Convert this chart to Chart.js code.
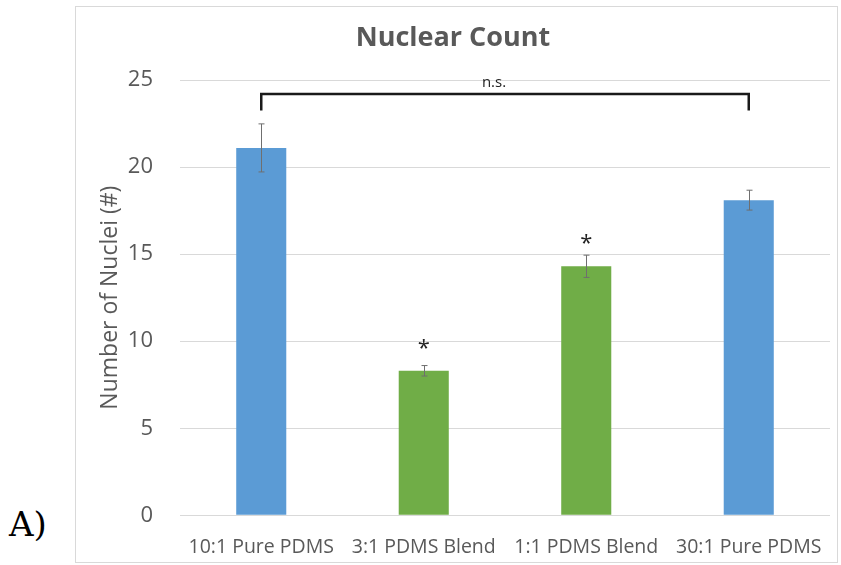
<!DOCTYPE html>
<html>
<head>
<meta charset="utf-8">
<script src="https://cdn.jsdelivr.net/npm/chart.js@4"></script>
<style>
  body { margin: 0; width: 841px; height: 565px; position: relative; background: #fff; overflow: hidden; }
  #frame { position: absolute; left: 75px; top: 6px; width: 763px; height: 557px; box-sizing: border-box; border: 1px solid #d9d9d9; }
  #panel { position: absolute; left: 9px; top: 507px; font: 34px "DejaVu Serif"; line-height: 34px; color: #000; }
</style>
</head>
<body>
<div id="panel">A)</div>
<div id="frame"><canvas id="chart" width="761" height="555"></canvas></div>
<script>
// данные
const categories = ["10:1 Pure PDMS", "3:1 PDMS Blend", "1:1 PDMS Blend", "30:1 Pure PDMS"];
const nucleiMean = [21.1, 8.3, 14.3, 18.1];
const nucleiErr = [1.38, 0.3, 0.64, 0.57];
const barColors = ["#5B9BD5", "#70AD47", "#70AD47", "#5B9BD5"];
const starLevels = [null, 9.8, 15.8, null]; // уровень звёздочек
const bracketLevel = 24.2;
const bracketLegEnd = 23.25;
const yTicks = [0, 5, 10, 15, 20, 25];

const fontFamily = "'Open Sans', sans-serif";

// планки погрешностей
const errorBars = {
  id: "errorBars",
  afterDatasetsDraw(chart) {
    const ctx = chart.ctx;
    const y = chart.scales.y;
    const meta = chart.getDatasetMeta(0);
    ctx.save();
    ctx.strokeStyle = "#6f6f6f";
    ctx.lineWidth = 1;
    meta.data.forEach((bar, i) => {
      const x = Math.round(bar.x) + 0.5;
      const top = y.getPixelForValue(nucleiMean[i] + nucleiErr[i]);
      const bottom = y.getPixelForValue(nucleiMean[i] - nucleiErr[i]);
      ctx.beginPath();
      ctx.moveTo(x, top);
      ctx.lineTo(x, bottom);
      ctx.moveTo(x - 3, top);
      ctx.lineTo(x + 3, top);
      ctx.moveTo(x - 3, bottom);
      ctx.lineTo(x + 3, bottom);
      ctx.stroke();
    });
    ctx.restore();
  },
};

// скобка n.s. и звёздочки
const significance = {
  id: "significance",
  afterDatasetsDraw(chart) {
    const ctx = chart.ctx;
    const x = chart.scales.x;
    const y = chart.scales.y;
    ctx.save();

    const x0 = x.getPixelForValue(0);
    const x1 = x.getPixelForValue(categories.length - 1);
    const yb = y.getPixelForValue(bracketLevel);
    const yl = y.getPixelForValue(bracketLegEnd);
    ctx.strokeStyle = "#1a1a1a";
    ctx.lineWidth = 2.5;
    ctx.beginPath();
    ctx.moveTo(x0, yl);
    ctx.lineTo(x0, yb);
    ctx.lineTo(x1, yb);
    ctx.lineTo(x1, yl);
    ctx.stroke();

    ctx.fillStyle = "#222";
    ctx.font = "15px " + fontFamily;
    ctx.textAlign = "center";
    ctx.textBaseline = "alphabetic";
    ctx.fillText("n.s.", (x0 + x1) / 2 - 11, yb - 7);

    ctx.font = "22px " + fontFamily;
    ctx.textBaseline = "middle";
    starLevels.forEach((lvl, i) => {
      if (lvl === null) return;
      ctx.fillText("*", x.getPixelForValue(i), y.getPixelForValue(lvl) + 4);
    });
    ctx.restore();
  },
};

new Chart(document.getElementById("chart"), {
  type: "bar",
  data: {
    labels: categories,
    datasets: [
      {
        data: nucleiMean,
        backgroundColor: barColors,
        categoryPercentage: 1,
        barPercentage: 0.308,
      },
    ],
  },
  options: {
    responsive: false,
    animation: false,
    layout: { padding: { left: 0, right: 7, top: 0, bottom: 0 } },
    plugins: {
      legend: { display: false },
      tooltip: { enabled: false },
      title: {
        display: true,
        text: "Nuclear Count",
        color: "#595959",
        font: { family: fontFamily, size: 27, weight: "bold" },
        padding: { top: 15, bottom: 25.6 },
      },
    },
    scales: {
      x: {
        grid: { display: false },
        border: { display: false },
        ticks: {
          color: "#595959",
          font: { family: fontFamily, size: 19.5 },
          padding: 12,
          maxRotation: 0,
          autoSkip: false,
        },
        afterFit(scale) {
          scale.height = 46.7;
        },
      },
      y: {
        min: 0,
        max: 25,
        afterBuildTicks(scale) {
          scale.ticks = yTicks.map((v) => ({ value: v }));
        },
        grid: { color: "#d9d9d9", lineWidth: 1, drawTicks: false },
        border: { display: false },
        ticks: {
          color: "#595959",
          font: { family: fontFamily, size: 22 },
          padding: 27,
        },
        title: {
          display: true,
          text: "Number of Nuclei (#)",
          color: "#595959",
          font: { family: fontFamily, size: 23 },
          padding: { top: 21, bottom: 0 },
        },
        afterFit(scale) {
          scale.width = 104;
        },
      },
    },
  },
  plugins: [errorBars, significance],
});
</script>
</body>
</html>
